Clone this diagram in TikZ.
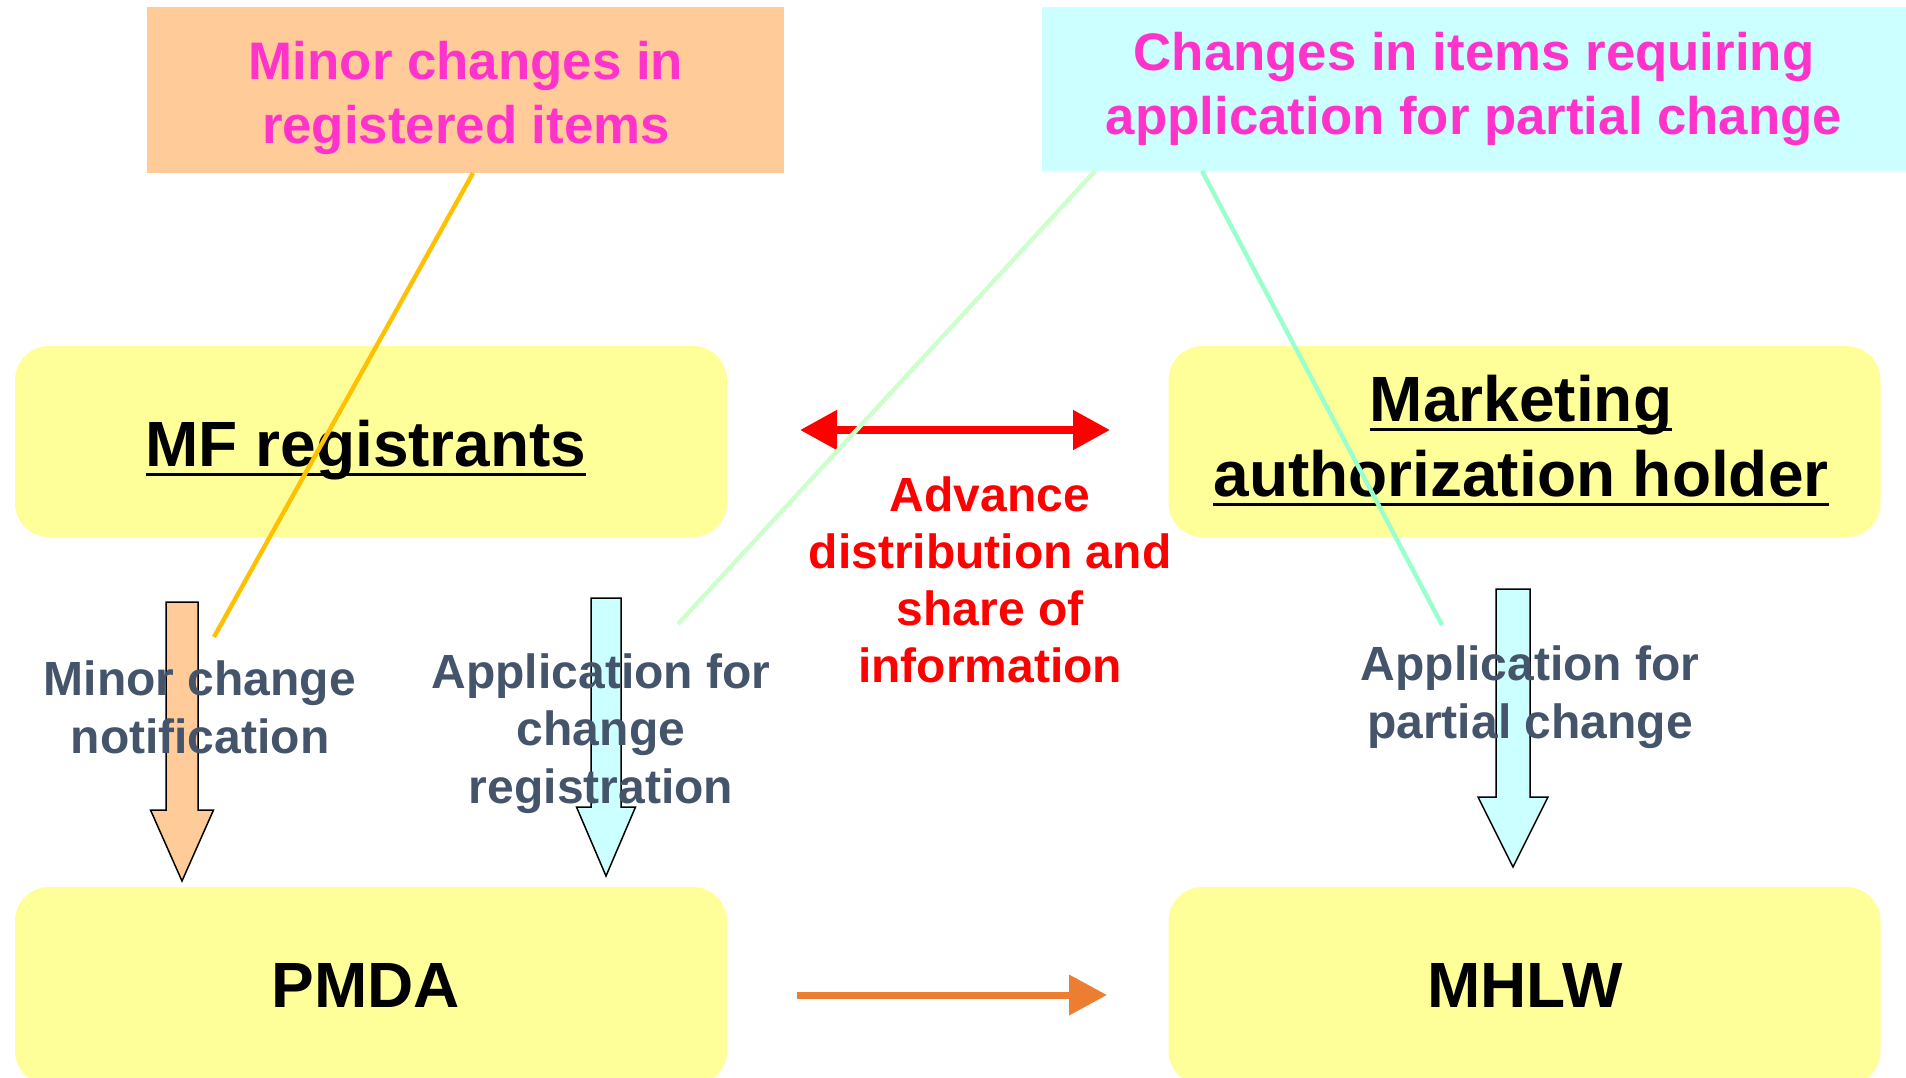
\documentclass[tikz,border=0pt]{standalone}
\usepackage{fontspec}
\setmainfont{Liberation Sans}
\usetikzlibrary{arrows.meta}
\definecolor{peach}{HTML}{FFCC99}
\definecolor{paleCyan}{HTML}{CCFFFF}
\definecolor{paleYellow}{HTML}{FFFF99}
\definecolor{pinkText}{HTML}{FF33CC}
\definecolor{slateText}{HTML}{44546A}
\definecolor{orangeArrow}{HTML}{ED7D31}
\definecolor{goldLine}{HTML}{FFC000}
\definecolor{paleGreen}{HTML}{CCFFCC}
\definecolor{mintLine}{HTML}{99FFCC}
\newcommand\ulbox[1]{\setbox0\hbox{#1}\rlap{\rule[-5pt]{\wd0}{1.6pt}}\box0}
\newcommand\blockarrow[7]{%
  \draw[fill=#7, line width=0.75pt, line join=miter]
    (#1-#5,#2) -- (#1+#5,#2) -- (#1+#5,#3) -- (#1+#6,#3) -- (#1,#4)
    -- (#1-#6,#3) -- (#1-#5,#3) -- cycle;}
\begin{document}
\begin{tikzpicture}[x=0.5pt,y=-0.5pt,
  every node/.style={inner sep=0pt,outer sep=0pt},
  ybox/.style={fill=paleYellow,rounded corners=17pt,minimum width=356pt},
  titletext/.style={font=\bfseries\fontsize{26.4}{32}\selectfont,text=pinkText,align=center,anchor=base},
  bigtext/.style={font=\bfseries\fontsize{32}{37.5}\selectfont,text=black,align=center,anchor=base},
  graytext/.style={font=\bfseries\fontsize{24}{28.75}\selectfont,text=slateText,align=center,anchor=base},
  redtext/.style={font=\bfseries\fontsize{24}{28.5}\selectfont,text=red,align=center,anchor=base},
  callout/.style={line width=2.2pt}
]
\useasboundingbox (0,0) rectangle (1906,1077);
\clip (0,0) rectangle (1906,1077);

% top boxes
\node[fill=peach, minimum width=318.5pt, minimum height=83pt] (orangeBox) at (465.5,90) {};
\node[fill=paleCyan, minimum width=434pt, minimum height=82pt] (cyanBox) at (1476,89) {};

% yellow boxes
\node[ybox, minimum height=95.5pt] (mf) at (371,441.5) {};
\node[ybox, minimum height=95.5pt] (mah) at (1524.5,441.5) {};
\node[ybox, minimum height=99pt] (pmda) at (371,986) {};
\node[ybox, minimum height=99pt] (mhlw) at (1524.5,986) {};

% titles (anchor base = baseline of last line)
\node[titletext] (tL) at (466,143) {Minor changes in\\registered items};
\node[titletext] (tR) at (1474,134) {Changes in items requiring\\application for partial change};

\node[bigtext] (mfT) at (366,466) {\ulbox{MF registrants}};
\node[bigtext] (mahT) at (1521,496) {\ulbox{Marketing}\\\ulbox{authorization holder}};
\node[bigtext] (pmdaT) at (366,1007) {PMDA};
\node[bigtext] (mhlwT) at (1525,1007) {MHLW};

% block arrows
\blockarrow{182}{602}{810}{881}{16}{31.5}{peach}
\blockarrow{606}{598}{807}{876}{15}{29.5}{paleCyan}
\blockarrow{1513}{589}{797}{867}{17}{35}{paleCyan}

% arrow labels
\node[graytext] (minorT) at (200,753) {Minor change\\notification};
\node[graytext] (appL) at (601,803) {Application for\\change\\registration};
\node[graytext] (appR) at (1530,738) {Application for\\partial change};

% red double arrow
\coordinate (redL) at (800,430);
\coordinate (redR) at (1110,430);
\draw[red, line width=4pt, {Triangle[length=18.5pt,width=19pt]}-{Triangle[length=18.5pt,width=19pt]}] (redL) -- (redR);
\node[redtext] (advT) at (990,682) {Advance\\distribution and\\share of\\information};

% orange arrow
\coordinate (orL) at (797,995);
\coordinate (orR) at (1107,995);
\draw[orangeArrow, line width=3.5pt, -{Triangle[length=19pt,width=19.5pt]}] (orL) -- (orR);

% callout lines
\coordinate (goldEnd) at (214,637);
\coordinate (greenEnd) at (678,624);
\coordinate (mintEnd) at (1442,625);
\draw[callout, goldLine] (orangeBox.south west) ++(326,0) -- (goldEnd);
\draw[callout, paleGreen] (cyanBox.south west) ++(53,0) -- (greenEnd);
\draw[callout, mintLine] (cyanBox.south west) ++(160,0) -- (mintEnd);
\end{tikzpicture}
\end{document}
